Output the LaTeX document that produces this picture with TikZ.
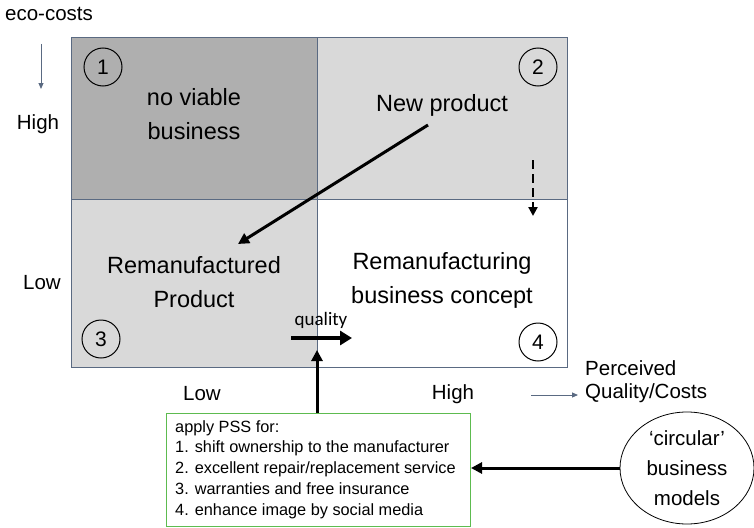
\documentclass[tikz,border=0pt]{standalone}
\usepackage{fontspec}
\setmainfont{Liberation Sans}
\newfontfamily\carlito{Carlito}
\usetikzlibrary{arrows.meta,shapes.geometric}
\definecolor{darkq}{HTML}{AFAFAF}
\definecolor{lightq}{HTML}{D9D9D9}
\definecolor{framec}{HTML}{5A6A82}
\definecolor{pssgreen}{HTML}{5DBB4F}
\begin{document}
\begin{tikzpicture}[x=1pt,y=-1pt,
  quadtext/.style={align=center,inner sep=0pt,font=\fontsize{23.5}{34}\selectfont},
  axislabel/.style={inner sep=0pt,font=\fontsize{20.5}{24}\selectfont},
  numcircle/.style={circle,draw,line width=1pt,minimum size=38pt,inner sep=0pt,font=\fontsize{21}{21}\selectfont},
  bigarrow/.style={line width=3pt,-{Triangle[length=11pt,width=11pt]}},
  thinarrow/.style={framec,line width=0.9pt,-{Triangle[length=6pt,width=5pt]}}
]
\useasboundingbox (0,0) rectangle (754,527);
% quadrants
\fill[darkq] (71,38) rectangle (317,199);
\fill[lightq] (317,38) rectangle (567,199);
\fill[lightq] (71,199) rectangle (317,367);
\draw[framec,line width=1pt] (71,38) rectangle (567,367);
\draw[framec,line width=1pt] (317,38) -- (317,367);
\draw[framec,line width=1pt] (71,199) -- (567,199);
% number circles
\node[numcircle] (c1) at (103,67) {1};
\node[numcircle] (c2) at (538,67) {2};
\node[numcircle] (c3) at (101,339) {3};
\node[numcircle] (c4) at (538,342) {4};
% quadrant texts
\node[quadtext] (q1) at (194,114) {no viable\\business};
\node[quadtext] (q2) at (442,105) {New product};
\node[quadtext] (q3) at (194,282) {Remanufactured\\Product};
\node[quadtext] (q4) at (442,280) {Remanufacturing\\business concept};
% axis labels
\node[axislabel] (eco) at (49,14) {eco-costs};
\coordinate (ecoA) at (41,44);
\coordinate (ecoB) at (41,89);
\draw[thinarrow] (ecoA) -- (ecoB);
\node[axislabel] (high) at (38,124) {High};
\node[axislabel] (low) at (42,283) {Low};
\node[axislabel] (blow) at (202,394) {Low};
\node[axislabel] (bhigh) at (453,394) {High};
\coordinate (pqA) at (531,395);
\coordinate (pqB) at (578,395);
\draw[thinarrow] (pqA) -- (pqB);
\node[axislabel,anchor=west,align=left,font=\fontsize{20.5}{23}\selectfont] (pq) at (585,382) {Perceived\\Quality/Costs};
% arrows inside
\coordinate (npA) at (428,125);
\coordinate (npB) at (238,244);
\draw[bigarrow] (npA) -- (npB);
\coordinate (dA) at (533,160);
\coordinate (dB) at (533,216);
\draw[line width=2.8pt,dash pattern=on 9pt off 5pt,-{Triangle[length=9pt,width=9pt]}] (dA) -- (dB);
\node[inner sep=0pt,font=\carlito\fontsize{19}{20}\selectfont] (qual) at (321,320) {quality};
\coordinate (qA) at (291,338);
\coordinate (qB) at (352,338);
\draw[line width=4pt,-{Triangle[length=12pt,width=14pt]}] (qA) -- (qB);
% PSS box
\node[draw=pssgreen,line width=1pt,minimum width=304pt,minimum height=113pt,anchor=north west,inner sep=0pt] (pss) at (166,413) {};
\node[anchor=north west,align=left,inner sep=0pt,font=\fontsize{16.3}{20.8}\selectfont] (psstext) at (175,420)
 {apply PSS for:\\1. shift ownership to the manufacturer\\2. excellent repair/replacement service\\3. warranties and free insurance\\4. enhance image by social media};
\coordinate (pssTip) at (317,350);
\draw[bigarrow] (pss.north -| pssTip) -- (pssTip);
% ellipse
\node[ellipse,draw,line width=0.8pt,minimum width=134pt,minimum height=112pt,align=center,inner sep=0pt,font=\fontsize{20.5}{30}\selectfont] (circ) at (687,468) {‘circular’\\business\\models};
\draw[bigarrow] (circ.west) -- (pss.east |- circ.west);
\end{tikzpicture}
\end{document}
